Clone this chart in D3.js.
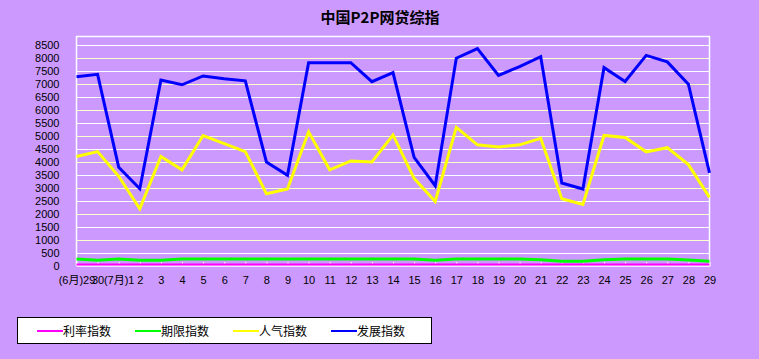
<!DOCTYPE html>
<html>
<head>
<meta charset="utf-8">
<script src="https://cdn.jsdelivr.net/npm/d3@7"></script>
<style>
  body { margin: 0; background: #cc99ff; }
  svg { display: block; }
  text { font-family: "Liberation Sans", Arial, sans-serif; }
</style>
</head>
<body>
<svg id="chart" width="759" height="359"></svg>
<script>
const days = ["(6月)29", "30", "(7月)1", "2", "3", "4", "5", "6", "7", "8", "9", "10",
  "11", "12", "13", "14", "15", "16", "17", "18", "19", "20", "21", "22", "23",
  "24", "25", "26", "27", "28", "29"];

const rateIndex = [60, 60, 60, 60, 60, 60, 60, 60, 60, 60, 60, 60, 60, 60, 60, 60,
  60, 60, 60, 60, 60, 60, 60, 60, 60, 60, 60, 60, 60, 60, 60];
const termIndex = [270, 220, 270, 220, 220, 270, 270, 270, 270, 270, 270, 270, 270, 270,
  270, 270, 270, 220, 270, 270, 270, 270, 240, 180, 180, 240, 270, 270, 270, 230, 180];
const popularityIndex = [4210, 4400, 3450, 2200, 4210, 3700, 5020, 4710, 4400, 2780,
  2960, 5160, 3700, 4040, 4000, 5040, 3370, 2480, 5330, 4660, 4580, 4660, 4910,
  2590, 2370, 5020, 4940, 4390, 4550, 3900, 2640];
const growthIndex = [7280, 7370, 3800, 2970, 7150, 6970, 7310, 7200, 7120, 4000, 3490,
  7820, 7820, 7820, 7090, 7440, 4180, 3090, 7990, 8360, 7330, 7670, 8050, 3190,
  2960, 7630, 7100, 8100, 7850, 6990, 3580];

const yTicks = d3.range(0, 8501, 500);

const series = [
  { name: "利率指数", values: rateIndex, color: "#ff00ff", width: 2 },
  { name: "期限指数", values: termIndex, color: "#00ff00", width: 3 },
  { name: "人气指数", values: popularityIndex, color: "#ffff00", width: 3 },
  { name: "发展指数", values: growthIndex, color: "#0000ff", width: 3 }
];

const svg = d3.select("#chart");
const plotLeft = 76.5, plotRight = 709.5, plotTop = 36.5, plotBottom = 266;

const x = d3.scalePoint().domain(d3.range(days.length)).range([plotLeft, plotRight]);
const y = d3.scaleLinear().domain([0, 8500]).range([plotBottom, 45]);

// title
svg.append("text")
  .attr("x", 380).attr("y", 23)
  .attr("text-anchor", "middle")
  .style("font-family", "'Noto Sans CJK SC', sans-serif")
  .style("font-weight", "bold")
  .style("font-size", "15px")
  .text("中国P2P网贷综指");

// grid lines, thousands are pale yellow
svg.append("g")
  .selectAll("line")
  .data(yTicks.filter(d => d > 0))
  .join("line")
  .attr("x1", plotLeft).attr("x2", plotRight)
  .attr("y1", d => Math.round(y(d)) + 0.5)
  .attr("y2", d => Math.round(y(d)) + 0.5)
  .attr("stroke", d => d % 1000 === 0 ? "#ffffcc" : "#ffffff")
  .attr("stroke-width", 1.2);

// frame
svg.append("path")
  .attr("d", `M${plotLeft},${plotBottom}V${plotTop}H${plotRight}V${plotBottom}H${plotLeft}`)
  .attr("fill", "none")
  .attr("stroke", "#ffffff")
  .attr("stroke-width", 1.5);

// y axis
const yAxis = svg.append("g")
  .attr("transform", `translate(${plotLeft},0)`)
  .call(d3.axisLeft(y).tickValues(yTicks).tickSize(0).tickPadding(17).tickFormat(d3.format("d")));
yAxis.select(".domain").remove();
yAxis.selectAll("text").style("font-size", "11px").attr("fill", "#000");

// x axis
const xAxis = svg.append("g")
  .attr("transform", `translate(0,${plotBottom})`)
  .call(d3.axisBottom(x).tickSize(-4).tickPadding(10).tickFormat(i => days[i]));
xAxis.select(".domain").remove();
xAxis.selectAll("line").attr("stroke", "#ffffff");
xAxis.selectAll("text").style("font-size", "11px")
  .style("font-family", "'Liberation Sans', 'Noto Sans CJK SC', sans-serif")
  .attr("fill", "#000");

// lines
const line = d3.line().x((d, i) => x(i)).y(d => y(d));
svg.append("g")
  .selectAll("path")
  .data(series)
  .join("path")
  .attr("d", d => line(d.values))
  .attr("fill", "none")
  .attr("stroke", d => d.color)
  .attr("stroke-width", d => d.width);

// legend
const legend = svg.append("g");
legend.append("rect")
  .attr("x", 17.5).attr("y", 317.5)
  .attr("width", 414).attr("height", 26)
  .attr("fill", "#ffffff").attr("stroke", "#000000");

const item = legend.selectAll("g.item")
  .data(series)
  .join("g")
  .attr("class", "item")
  .attr("transform", (d, i) => `translate(${37 + i * 98},331)`);
item.append("line")
  .attr("x1", 0).attr("x2", 26)
  .attr("stroke", d => d.color)
  .attr("stroke-width", 2);
item.append("text")
  .attr("x", 26).attr("y", 5)
  .style("font-family", "'Noto Sans CJK SC', sans-serif")
  .style("font-size", "12px")
  .text(d => d.name);
</script>
</body>
</html>
